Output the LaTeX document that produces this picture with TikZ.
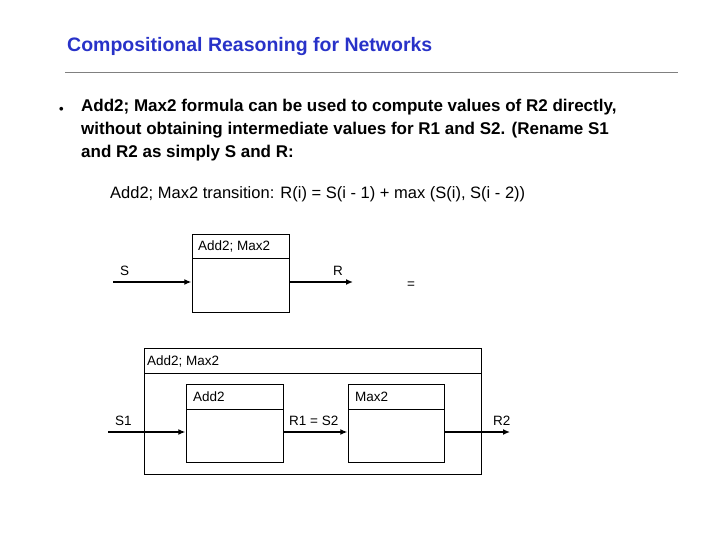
\documentclass[tikz,border=0pt]{standalone}
\usepackage{fontspec}
\setmainfont{Liberation Sans}
\usetikzlibrary{arrows.meta}
\definecolor{ttl}{RGB}{40,50,200}
\begin{document}
\begin{tikzpicture}[x=1pt,y=-1pt,
  box/.style={draw,line width=0.8pt},
  flow/.style={line width=1.3pt,-{Latex[length=7pt,width=6pt]}},
  lab/.style={font=\fontsize{13.5}{15}\selectfont,anchor=base west,inner sep=0}]
\useasboundingbox (0,0) rectangle (720,540);
\node[anchor=base west,inner sep=0,text=ttl,font=\fontsize{19.5}{22}\bfseries] (title) at (67,52) {Compositional Reasoning for Networks};
\draw[gray,line width=0.6pt] (65,72) -- (678,72);
\node[anchor=base west,inner sep=0,font=\fontsize{13}{16}\bfseries] (b) at (59,114) {•};
\node[anchor=north west,inner sep=0,align=left,font=\fontsize{17}{23}\bfseries] (t) at (81,99) {Add2; Max2 formula can be used to compute values of R2 directly,\\without obtaining intermediate values for R1 and S2.  (Rename S1\\and R2 as simply S and R:};
\node[anchor=base west,inner sep=0,font=\fontsize{16.5}{18}\selectfont] (tr) at (110,199) {Add2; Max2 transition: R(i) = S(i - 1) + max (S(i), S(i - 2))};
% top box
\draw[box] (192,234) rectangle (289,312);
\draw[box] (192,258) -- (289,258);
\node[lab] (h1) at (198,251) {Add2; Max2};
\coordinate (s0) at (113,282);
\coordinate (r0) at (353,282);
\node[inner sep=0] (inb) at (192,282) {};
\node[inner sep=0] (outb) at (289,282) {};
\draw[flow] (s0) -- (inb);
\draw[flow] (outb) -- (r0);
\node[lab] (S) at (120,275) {S};
\node[lab] (R) at (333,275) {R};
\node[lab] (eq) at (407,288) {=};
% outer
\draw[box] (144,348) rectangle (481,474);
\draw[box] (144,373) -- (481,373);
\node[lab] (h2) at (147,365) {Add2; Max2};
\draw[box] (186,384) rectangle (283,462);
\draw[box] (186,409) -- (283,409);
\node[lab] (h3) at (193,401) {Add2};
\draw[box] (348,384) rectangle (444,462);
\draw[box] (348,409) -- (444,409);
\node[lab] (h4) at (355,401) {Max2};
\coordinate (s1) at (108,432);
\coordinate (r2) at (510,432);
\node[inner sep=0] (ai) at (186,432) {};
\node[inner sep=0] (ao) at (283,432) {};
\node[inner sep=0] (mi) at (348,432) {};
\node[inner sep=0] (mo) at (444,432) {};
\draw[flow] (s1) -- (ai);
\draw[flow] (ao) -- (mi);
\draw[flow] (mo) -- (r2);
\node[lab] (S1) at (115,425) {S1};
\node[lab] (RS) at (289,425) {R1 = S2};
\node[lab] (R2) at (493,425) {R2};
\end{tikzpicture}
\end{document}
